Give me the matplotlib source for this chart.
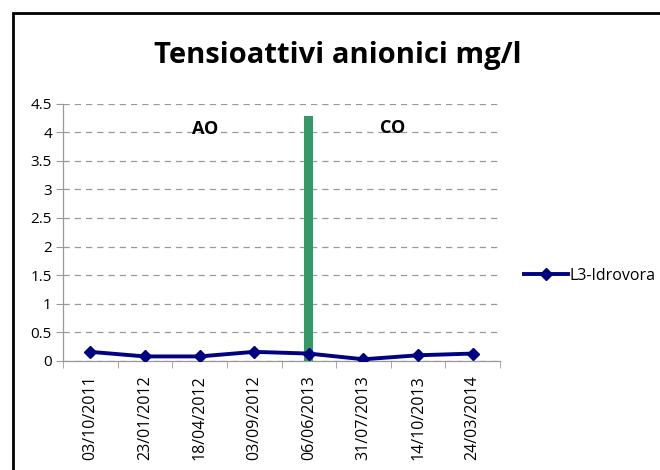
import matplotlib
matplotlib.use("Agg")
import matplotlib.pyplot as plt
from matplotlib.patches import Rectangle

plt.rcParams['font.family'] = ['Open Sans', 'DejaVu Sans']

dates = ['03/10/2011', '23/01/2012', '18/04/2012', '03/09/2012',
         '06/06/2013', '31/07/2013', '14/10/2013', '24/03/2014']
l3_idrovora = [0.16, 0.08, 0.08, 0.16, 0.13, 0.03, 0.10, 0.13]

# green separator between the AO and CO periods
divider_idx = 4
divider_height = 4.28

fig = plt.figure(figsize=(6.6, 4.7), dpi=100)
ax = fig.add_axes([63 / 660, 1 - 361 / 470, 437 / 660, 257.5 / 470])

x = list(range(len(dates)))
ax.bar(x[divider_idx], divider_height, width=0.17, color='#339966', zorder=2)
ax.plot(x, l3_idrovora, color='#000080', lw=2.8, marker='D', markersize=6.5,
        label='L3-Idrovora', zorder=3)

ax.set_xlim(-0.5, len(dates) - 0.5)
ax.set_ylim(0, 4.5)
ax.set_yticks([i * 0.5 for i in range(10)])
ax.set_yticklabels(['0', '0.5', '1', '1.5', '2', '2.5', '3', '3.5', '4', '4.5'])
ax.set_xticks(x)
ax.set_xticklabels(dates, rotation=90)
ax.set_xticks([i - 0.5 for i in range(len(dates) + 1)], minor=True)

ax.tick_params(axis='x', which='major', length=0, pad=10, labelsize=11.5)
ax.tick_params(axis='x', which='minor', length=5, color='#999999', direction='out')
ax.tick_params(axis='y', length=5, color='#999999', labelsize=11, pad=3)

for s in ['top', 'right']:
    ax.spines[s].set_visible(False)
for s in ['left', 'bottom']:
    ax.spines[s].set_color('#999999')
    ax.spines[s].set_linewidth(0.9)

ax.yaxis.grid(True, linestyle=(0, (5, 4)), color='#999999', lw=0.9)
ax.set_axisbelow(True)

ax.text(2.1, 4.06, 'AO', fontsize=13, fontweight='bold', ha='center', va='center')
ax.text(5.54, 4.08, 'CO', fontsize=13, fontweight='bold', ha='center', va='center')

fig.text(338 / 660, 1 - 55 / 470, 'Tensioattivi anionici mg/l', fontsize=21,
         fontweight='bold', ha='center', va='center')

leg = fig.legend(loc='center left', bbox_to_anchor=(510 / 660, 1 - 276 / 470),
                 frameon=False, fontsize=11.5, handlelength=2.7, handletextpad=0.15)

# chart frame
fig.patches.append(Rectangle((13 / 660, -0.1), 1.2, 1 - 13 / 470 + 0.1,
                             transform=fig.transFigure, fill=False,
                             edgecolor='black', lw=2, clip_on=False))

fig.savefig('out.png', dpi=100)
